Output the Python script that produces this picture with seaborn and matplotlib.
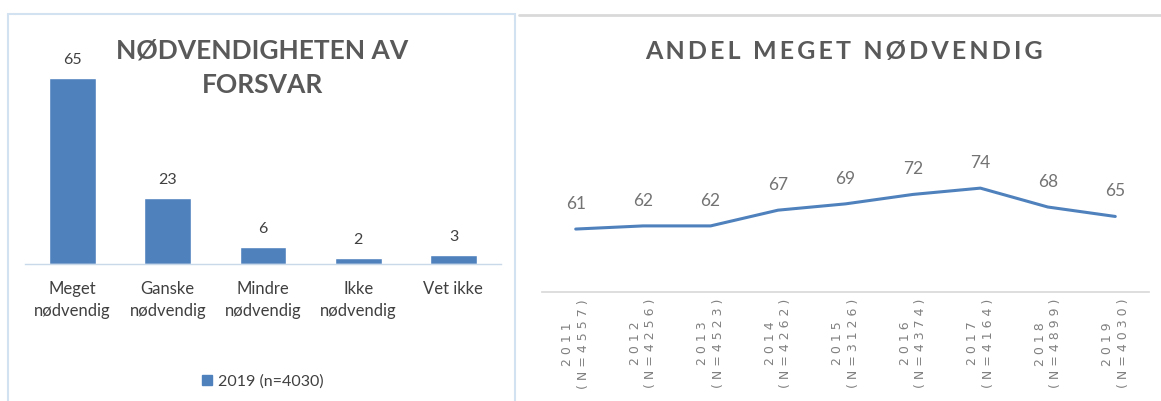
import seaborn as sns
import matplotlib.pyplot as plt
from matplotlib.patches import Patch, Rectangle
from matplotlib.lines import Line2D

# Data
categories = ["Meget\nnødvendig", "Ganske\nnødvendig", "Mindre\nnødvendig", "Ikke\nnødvendig", "Vet ikke"]
shares_2019 = [65, 23, 6, 2, 3]
legend_label = "2019 (n=4030)"

years = ["2011", "2012", "2013", "2014", "2015", "2016", "2017", "2018", "2019"]
sample_sizes = ["4557", "4256", "4523", "4262", "3126", "4374", "4164", "4899", "4030"]
share_meget = [61, 62, 62, 67, 69, 72, 74, 68, 65]

blue = "#4f81bd"
title_grey = "#595959"
text_grey = "#404040"

sns.set_theme(style="white")
plt.rcParams['font.family'] = ['Lato', 'DejaVu Sans']

fig = plt.figure(figsize=(11.61, 4.01), dpi=100)

# panel frames
fig.patches.append(Rectangle((8 / 1161, -0.05), 507 / 1161, 1.05 - 14 / 401, transform=fig.transFigure,
                             fill=False, edgecolor="#d3e2f1", linewidth=1.5))
fig.lines.append(Line2D([519 / 1161, 1], [1 - 15 / 401, 1 - 15 / 401], transform=fig.transFigure,
                        color="#d9d9d9", linewidth=2))

# Left: bar chart
ax1 = fig.add_axes([25 / 1161, 137 / 401, 476 / 1161, 244 / 401])
sns.barplot(x=categories, y=shares_2019, color=blue, width=0.49, saturation=1, ax=ax1)
ax1.set_xlim(-0.5, 4.5)
ax1.set_ylim(0, 85.3)
for i, v in enumerate(shares_2019):
    ax1.annotate(str(v), (i, v), xytext=(0, 13), textcoords="offset points",
                 ha="center", va="center", fontsize=11.5, color=text_grey)
for s in ["left", "right", "top"]:
    ax1.spines[s].set_visible(False)
ax1.spines["bottom"].set_color("#c9d9ea")
ax1.spines["bottom"].set_linewidth(1)
ax1.set_yticks([])
ax1.set_xlabel("")
ax1.set_ylabel("")
ax1.tick_params(axis="x", length=0, pad=12)
for lbl in ax1.get_xticklabels():
    lbl.set_fontsize(12)
    lbl.set_color(text_grey)
    lbl.set_linespacing(1.5)
ax1.patch.set_alpha(0)
fig.text(262 / 1161, 1 - 68 / 401, "NØDVENDIGHETEN AV\nFORSVAR", ha="center", va="center",
         fontsize=19, fontweight="bold", color=title_grey, linespacing=1.5)
ax1.legend(handles=[Patch(color=blue, label=legend_label)], loc="center",
           bbox_to_anchor=(0.5, -0.48), frameon=False, fontsize=11.5, handlelength=0.6,
           handleheight=0.6, handletextpad=0.4, labelcolor=text_grey)

# Right: line chart
ax2 = fig.add_axes([542 / 1161, 109 / 401, 607 / 1161, 192 / 401])
x_pos = list(range(len(years)))
sns.lineplot(x=x_pos, y=share_meget, color=blue, linewidth=2.2, ax=ax2)
ax2.set_xlim(-0.5, 8.5)
ax2.set_ylim(41, 102)
for i, v in enumerate(share_meget):
    ax2.annotate(str(v), (i, v), xytext=(0, 18), textcoords="offset points",
                 ha="center", va="center", fontsize=12.5, color="#737373")
tick_labels = [" ".join(y) + "\n" + " ".join("(N=" + n + ")") for y, n in zip(years, sample_sizes)]
ax2.set_xticks(x_pos)
ax2.set_xticklabels(tick_labels, rotation=90, fontsize=9, color="#808080",
                    family="DejaVu Sans", linespacing=1.25)
ax2.tick_params(axis="x", length=0, pad=5)
ax2.set_yticks([])
for s in ["left", "right", "top"]:
    ax2.spines[s].set_visible(False)
ax2.spines["bottom"].set_color("#d9d9d9")
ax2.patch.set_alpha(0)
fig.text(844 / 1161, 1 - 51 / 401, "\u2009".join("ANDEL MEGET NØDVENDIG"), ha="center", va="center",
         fontsize=18, fontweight="bold", color=title_grey)

fig.savefig("out.png", dpi=100, facecolor="white")
